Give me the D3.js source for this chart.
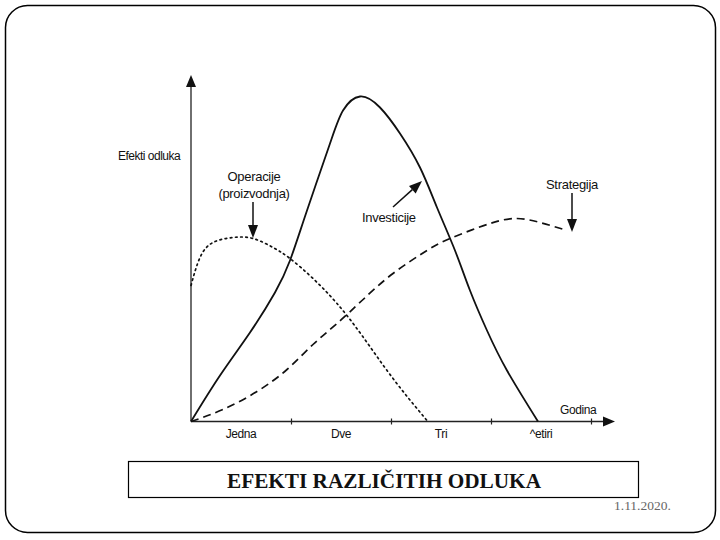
<!DOCTYPE html>
<html>
<head>
<meta charset="utf-8">
<script src="https://cdn.jsdelivr.net/npm/d3@7"></script>
<style>
  html, body { margin: 0; padding: 0; background: #fff; }
  svg { display: block; }
  text { font-family: "Liberation Sans", Arial, sans-serif; fill: #111; }
</style>
</head>
<body>
<svg id="chart" width="720" height="540"></svg>
<script>
// ---- data (years on x, effect on y) ----
const tickLabels = ["Jedna", "Dve", "Tri", "^etiri"];
const tickYears = [1, 2, 3, 4];

const investicijeX = [0, 0.29, 0.59, 0.84, 0.99, 1.16, 1.39, 1.52, 1.69, 1.89, 2.09, 2.29, 2.46, 2.64, 2.79, 2.96, 3.16, 3.47];
const investicijeY = [0, 46, 89, 129, 161, 211, 278, 311, 325, 314, 288, 254, 214, 171, 131, 91, 51, 0];

const operacijeX = [0, 0.09, 0.22, 0.42, 0.62, 0.82, 0.99, 1.22, 1.46, 1.71, 2.02, 2.36];
const operacijeY = [136, 164, 179, 184, 183, 174, 163, 143, 118, 86, 43, 1];

const strategijaX = [0, 0.32, 0.66, 0.96, 1.22, 1.46, 1.71, 2.02, 2.36, 2.59, 2.99, 3.26, 3.49, 3.76];
const strategijaY = [0, 12, 30, 52, 77, 98, 121, 148, 171, 183, 198, 203, 199, 191];

const svg = d3.select("#chart");

// frame
svg.append("rect").attr("x", 5.5).attr("y", 5.5).attr("width", 710).attr("height", 527)
  .attr("rx", 22).attr("ry", 22).attr("fill", "none").attr("stroke", "#000").attr("stroke-width", 1.5);

const x = d3.scaleLinear().domain([0, 4]).range([191, 591]);
const y = d3.scaleLinear().domain([0, 350]).range([421.5, 71.5]);

const g = svg.append("g");

// axes
g.append("line").attr("x1", x(0)).attr("y1", y(0)).attr("x2", 606).attr("y2", y(0))
  .attr("stroke", "#222").attr("stroke-width", 1.3);
g.append("line").attr("x1", x(0)).attr("y1", y(0)).attr("x2", x(0)).attr("y2", 85)
  .attr("stroke", "#222").attr("stroke-width", 1.3);
// arrowheads
g.append("path").attr("d", `M615,${y(0)} L603,${y(0)-5} L603,${y(0)+5} Z`).attr("fill", "#111");
g.append("path").attr("d", `M${x(0)},75 L${x(0)-5},87 L${x(0)+5},87 Z`).attr("fill", "#111");

// ticks
const xAxis = d3.axisBottom(x).tickValues(tickYears).tickSize(6).tickFormat("");
const ax = g.append("g").attr("transform", `translate(0,${y(0) - 3})`).call(xAxis);
ax.select(".domain").remove();
ax.selectAll(".tick line").attr("stroke", "#222").attr("stroke-width", 1.2);

// tick labels (centered in each year interval)
g.selectAll(".tlab").data(tickLabels).enter().append("text")
  .attr("class", "tlab")
  .attr("x", (d, i) => x(i + 0.5))
  .attr("y", 438)
  .attr("text-anchor", "middle")
  .attr("font-size", 12)
  .attr("letter-spacing", -0.4)
  .text(d => d);

// axis labels
g.append("text").attr("x", 560).attr("y", 414).attr("font-size", 12).attr("letter-spacing", -0.4).text("Godina");
g.append("text").attr("x", 118).attr("y", 160).attr("font-size", 12).attr("letter-spacing", -0.5).text("Efekti odluka");

// curves
const line = d3.line().x(d => x(d[0])).y(d => y(d[1])).curve(d3.curveNatural);

g.append("path").datum(investicijeX.map((v, i) => [v, investicijeY[i]]))
  .attr("d", line).attr("fill", "none").attr("stroke", "#111").attr("stroke-width", 1.8);

g.append("path").datum(operacijeX.map((v, i) => [v, operacijeY[i]]))
  .attr("d", line).attr("fill", "none").attr("stroke", "#111").attr("stroke-width", 1.7)
  .attr("stroke-dasharray", "1.6,3.6").attr("stroke-linecap", "round");

g.append("path").datum(strategijaX.map((v, i) => [v, strategijaY[i]]))
  .attr("d", line).attr("fill", "none").attr("stroke", "#111").attr("stroke-width", 1.7)
  .attr("stroke-dasharray", "8,5");

// annotation labels + arrows
function arrow(x1, y1, x2, y2) {
  const ang = Math.atan2(y2 - y1, x2 - x1);
  const L = 13, W = 5;
  const bx = x2 - L * Math.cos(ang), by = y2 - L * Math.sin(ang);
  g.append("line").attr("x1", x1).attr("y1", y1).attr("x2", bx).attr("y2", by)
    .attr("stroke", "#111").attr("stroke-width", 1.5);
  const px = -Math.sin(ang) * W, py = Math.cos(ang) * W;
  g.append("path").attr("d", `M${x2},${y2} L${bx + px},${by + py} L${bx - px},${by - py} Z`).attr("fill", "#111");
}

g.append("text").attr("x", 254).attr("y", 181).attr("text-anchor", "middle").attr("font-size", 13).attr("letter-spacing", -0.3).text("Operacije");
g.append("text").attr("x", 254).attr("y", 198).attr("text-anchor", "middle").attr("font-size", 13).attr("letter-spacing", -0.3).text("(proizvodnja)");
arrow(253, 202, 253, 238);

g.append("text").attr("x", 362).attr("y", 222).attr("font-size", 13).attr("letter-spacing", -0.3).text("Investicije");
arrow(393, 207, 422, 181);

g.append("text").attr("x", 546).attr("y", 189).attr("font-size", 13).attr("letter-spacing", -0.3).text("Strategija");
arrow(572, 193, 572, 232);

// title box
svg.append("rect").attr("x", 128.5).attr("y", 461.5).attr("width", 510).attr("height", 36)
  .attr("fill", "none").attr("stroke", "#000").attr("stroke-width", 1.2);
svg.append("text").attr("x", 227).attr("y", 488)
  .attr("font-weight", "bold").attr("font-size", 22)
  .attr("textLength", 314).attr("lengthAdjust", "spacingAndGlyphs")
  .style("font-family", "'Liberation Serif', 'DejaVu Serif', serif")
  .text("EFEKTI RAZLIČITIH ODLUKA");

svg.append("text").attr("x", 614).attr("y", 510)
  .style("font-family", "'Liberation Serif', serif").style("fill", "#666")
  .attr("font-size", 13.5).text("1.11.2020.");
</script>
</body>
</html>
